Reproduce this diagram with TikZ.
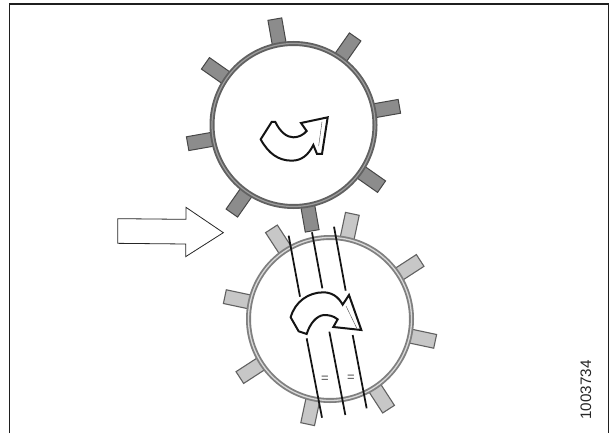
\documentclass[tikz,border=0pt]{standalone}
\usepackage{fontspec}
\setmainfont{Liberation Sans}
\tikzset{
  frameline/.style={draw=black!88,line width=1.3pt},
  cutline/.style={draw=black!92,line width=1.75pt},
  curvearrow/.style={draw=black!92,fill=white,line width=2pt,line join=miter},
  shine/.style={draw=black!70,line width=.4pt},
  toothA/.style={draw=black!72,fill=black!45,line width=1pt},
  toothB/.style={draw=black!62,fill=black!22,line width=1.1pt},
  ringAo/.style={draw=black!62,line width=5pt},
  ringAi/.style={draw=black!38,line width=1.2pt},
  ringBo/.style={draw=black!50,line width=5pt},
  ringBi/.style={draw=black!15,line width=1.3pt},
}
\newcommand{\gearshape}[6]{% cx cy start tooth ringouter ringinner
  \begin{scope}[shift={(#1,#2)},x=1pt,y=1pt]
    \foreach \a in {0,45,...,315}{
      \begin{scope}[rotate=#3+\a]
        \path[#4] (81,-7) rectangle (107.5,7);
      \end{scope}
    }
    \path[fill=white] (0,0) circle (81.5);
    \path[#5] (0,0) circle (81.5);
    \path[#6] (0,0) circle (81.5);
  \end{scope}
}
\begin{document}
\begin{tikzpicture}[x=1pt,y=-1pt]
\useasboundingbox (0,0) rectangle (609,433);
\path[fill=white] (0,0) rectangle (609,433);
% frame
\path[frameline] (9.6,433) -- (9.6,4.4) -- (608.4,4.4) -- (608.4,433);
\path[draw=black!88,line width=2pt] (9,4.4) -- (609,4.4);
% gears
\gearshape{293.5}{125}{10}{toothA}{ringAo}{ringAi}
\gearshape{330}{319}{33}{toothB}{ringBo}{ringBi}
% top curved arrow
\begin{scope}[shift={(170,0)},x=.33333pt,y=-.33333pt]
  \path[curvearrow] (272,418) -- (305,366) -- (316,366)
     .. controls (330,395) and (350,412) .. (370,412)
     .. controls (385,412) and (400,405) .. (410,393)
     -- (393,369) -- (473,352) -- (456,462) -- (441,462) -- (430,435)
     .. controls (415,465) and (395,482) .. (365,482)
     .. controls (325,482) and (295,460) .. (272,418) -- cycle;
  \path[shine] (456,365) -- (446,438);
\end{scope}
% lines and bottom curved arrow
\begin{scope}[shift={(200,200)},x=.33333pt,y=-.33333pt]
  \coordinate (la1) at (266,107); \coordinate (la2) at (300,290);
  \coordinate (lb1) at (336,97);  \coordinate (lb2) at (367,265);
  \coordinate (lc1) at (402,80);  \coordinate (lc2) at (437,272);
  \coordinate (ld1) at (320,415); \coordinate (ld2) at (366,653);
  \coordinate (le1) at (388,395); \coordinate (le2) at (436,645);
  \coordinate (lf1) at (458,405); \coordinate (lf2) at (500,625);
  \path[cutline] (la1) -- (la2) (lb1) -- (lb2) (lc1) -- (lc2)
                 (ld1) -- (ld2) (le1) -- (le2) (lf1) -- (lf2);
  \path[curvearrow] (272,352)
     .. controls (285,305) and (325,277) .. (370,277)
     .. controls (395,277) and (415,290) .. (428,314)
     -- (447,285) -- (484,390) -- (400,381) -- (413,358)
     .. controls (400,347) and (385,345) .. (372,345)
     .. controls (350,347) and (330,370) .. (320,402)
     -- (296,394) -- cycle;
  \path[shine] (438,318) -- (470,384);
  \node[inner sep=0pt,font=\fontsize{13}{13}\selectfont,text=black!70] (eqa) at (375,537) {=};
  \node[inner sep=0pt,font=\fontsize{13}{13}\selectfont,text=black!70] (eqb) at (453,535) {=};
\end{scope}
% big arrow
\begin{scope}[shift={(0,190)},x=.33333pt,y=-.33333pt]
  \path[draw=black!85,fill=white,line width=.8pt] (353,86) -- (558,88) -- (558,52) -- (670,128)
     -- (557,200) -- (557,162) -- (353,160) -- cycle;
\end{scope}
% number
\node[rotate=90,inner sep=0pt,text=black!85,font=\fontsize{15.2}{16}\selectfont] (num) at (586,390) {1003734};
\end{tikzpicture}
\end{document}
